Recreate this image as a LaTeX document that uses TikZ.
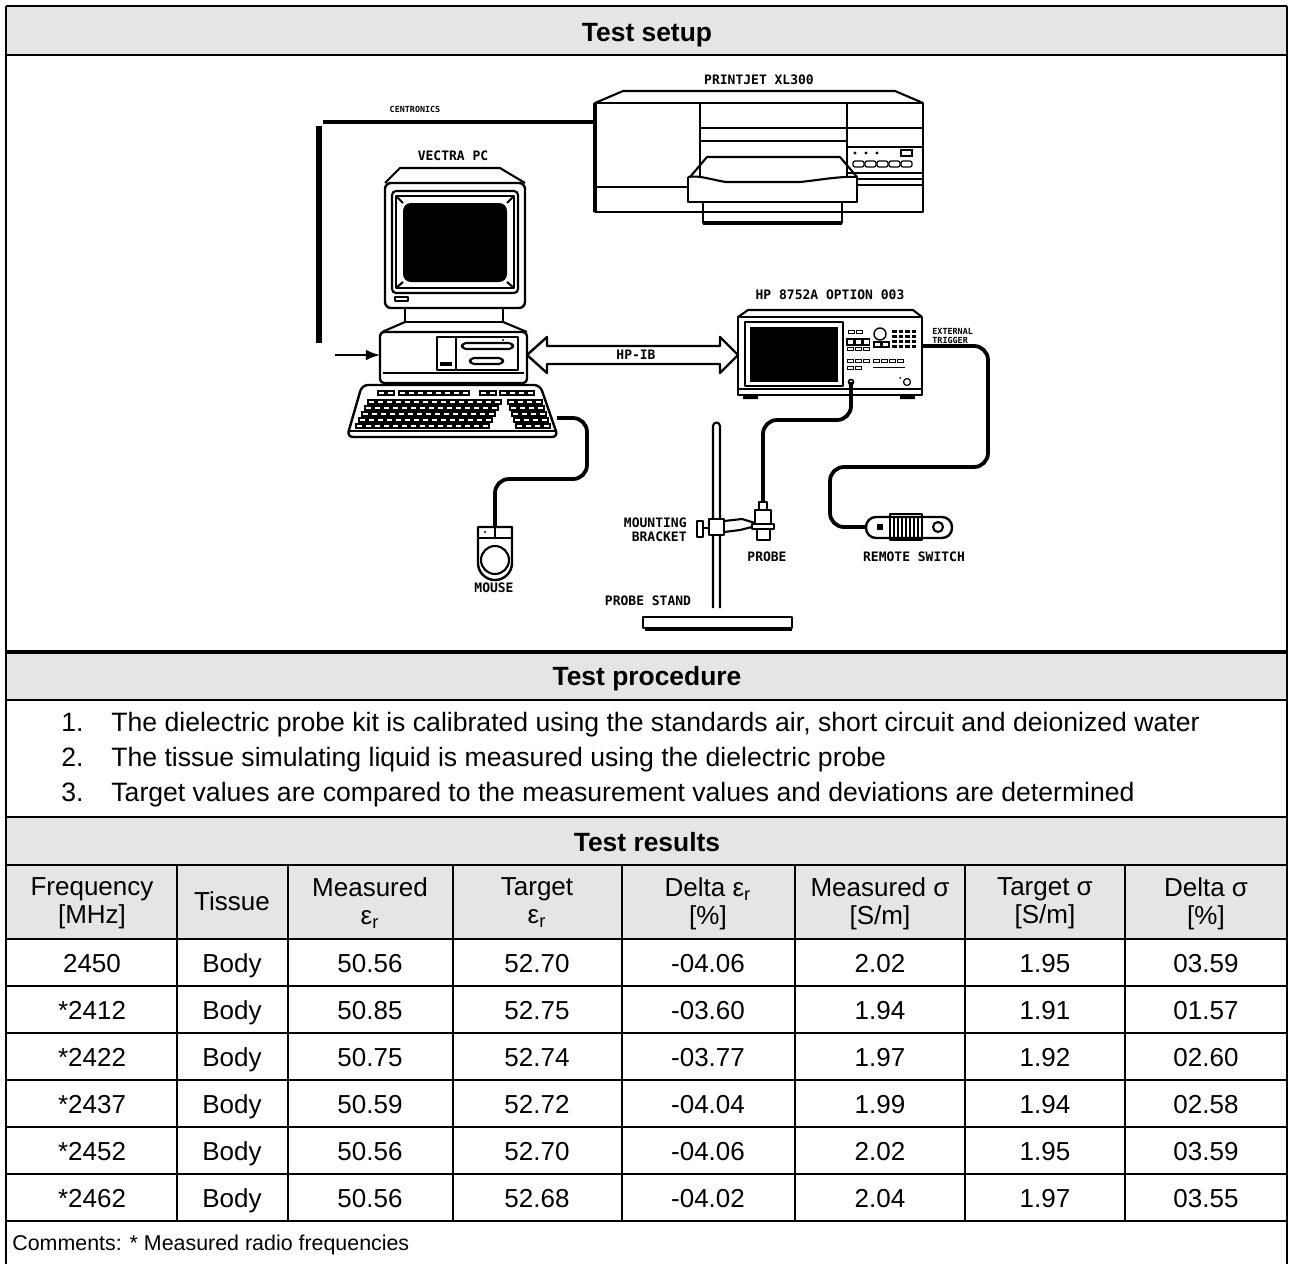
\documentclass[tikz,border=0pt]{standalone}
\usepackage{fontspec}
\setmainfont{Liberation Sans}
\newfontfamily\stencil{DejaVu Sans Mono}
\usetikzlibrary{positioning, arrows.meta}
\definecolor{bandgray}{RGB}{229,229,229}
\tikzset{
    x=0.5pt, y=-0.5pt, % one unit is one pixel of the sheet, counted downwards
    rule/.style={line width=1.1pt}, % lines of the table
    band/.style={fill=bandgray}, % grey title rows
    title/.style={font=\fontsize{13.2}{15}\selectfont\bfseries, anchor=base, inner sep=0pt}, % row titles
    cell/.style={font=\fontsize{13}{14}\selectfont, align=center, inner sep=0pt, text depth=0pt}, % table text
    line/.style={font=\fontsize{13.3}{14}\selectfont, anchor=base west, inner sep=0pt}, % procedure text
    tag/.style={font=\stencil\bfseries\fontsize{6.5}{7}\selectfont, inner sep=0pt, align=center}, % labels in the sketch
    tinytag/.style={tag, font=\stencil\bfseries\fontsize{4.2}{4.6}\selectfont}, % very small labels
    kit/.style={line width=1.05pt, line join=round}, % outlines of the equipment
    cable/.style={line width=1.9pt, rounded corners=7pt}, % wires
    >=Latex,
}

\begin{document}
\begin{tikzpicture}
\useasboundingbox (0,0) rectangle (1290,1264);

% grey bands
\fill[band] (6,6) rectangle (1287,55);
\fill[band] (6,652) rectangle (1287,700);
\fill[band] (6,817) rectangle (1287,939);

% table frame
\draw[rule] (6,6) -- (1287,6);
\draw[rule] (6,6) -- (6,1264);
\draw[rule] (1287,6) -- (1287,1264);
\draw[line width=1.6pt] (6,652) -- (1287,652);
\foreach \y in {55,700,817,865,939,986,1033,1080,1127,1174,1221}
    \draw[rule] (6,\y) -- (1287,\y);
\foreach \x in {177,288,453,622,795,965,1125}
    \draw[rule] (\x,865) -- (\x,1221);

\node[title] (setup) at (647,41) {Test setup};
\node[title] (proc) at (647,685) {Test procedure};
\node[title] (res) at (647,851) {Test results};

% procedure
\node[line] (n1) at (61,731) {1.};
\node[line] (p1) at (111,731) {The dielectric probe kit is calibrated using the standards air, short circuit and deionized water};
\node[line] (n2) at (61,766) {2.};
\node[line] (p2) at (111,766) {The tissue simulating liquid is measured using the dielectric probe};
\node[line] (n3) at (61,801) {3.};
\node[line] (p3) at (111,801) {Target values are compared to the measurement values and deviations are determined};

% results
\node[cell] (h1) at (92,901) {Frequency\\{[MHz]}};
\node[cell] (h2) at (232,901) {Tissue};
\node[cell] (h3) at (370,901) {Measured\\ε\textsubscript{r}};
\node[cell] (h4) at (537,901) {Target\\ε\textsubscript{r}};
\node[cell] (h5) at (708,901) {Delta ε\textsubscript{r}\\{[\%]}};
\node[cell] (h6) at (880,901) {Measured σ\\{[S/m]}};
\node[cell] (h7) at (1045,901) {Target σ\\{[S/m]}};
\node[cell] (h8) at (1206,901) {Delta σ\\{[\%]}};

\foreach \fq/\tis/\mer/\ter/\der/\mes/\tes/\des [count=\i] in {
    2450/Body/50.56/52.70/-04.06/2.02/1.95/03.59,
    *2412/Body/50.85/52.75/-03.60/1.94/1.91/01.57,
    *2422/Body/50.75/52.74/-03.77/1.97/1.92/02.60,
    *2437/Body/50.59/52.72/-04.04/1.99/1.94/02.58,
    *2452/Body/50.56/52.70/-04.06/2.02/1.95/03.59,
    *2462/Body/50.56/52.68/-04.02/2.04/1.97/03.55}
{
    \node[cell] (fq\i) at (92,{916+47*\i}) {\fq};
    \node[cell] (ts\i) at (232,{916+47*\i}) {\tis};
    \node[cell] (me\i) at (370,{916+47*\i}) {\mer};
    \node[cell] (te\i) at (537,{916+47*\i}) {\ter};
    \node[cell] (de\i) at (708,{916+47*\i}) {\der};
    \node[cell] (ms\i) at (880,{916+47*\i}) {\mes};
    \node[cell] (tg\i) at (1045,{916+47*\i}) {\tes};
    \node[cell] (ds\i) at (1206,{916+47*\i}) {\des};
}
\node[line, font=\fontsize{10.7}{12}\selectfont] (note) at (12,1250) {Comments: * Measured radio frequencies};

% ---- sketch of the set-up ----
% printer
\node[tag] (pjlab) at (759,80) {PRINTJET XL300};
\draw[kit] (595,103) -- (623,91) -- (895,91) -- (923,103);
\draw[kit] (595,103) rectangle (923,212);
\draw[line width=1.8pt] (595,103) -- (595,212);
\draw[kit] (700,103) -- (700,177) (847,103) -- (847,177);
\draw[kit] (595,187) -- (688,187);
\draw[kit] (700,128) -- (847,128) (700,141) -- (847,141);
\draw[kit] (847,128) -- (923,128) (847,147) -- (923,147) (847,173) -- (923,173)
    (857,179) -- (923,179) (857,185) -- (923,185);
\foreach \x in {855,866,877}
    \fill (\x,153) circle (1.6);
\draw[line width=0.6pt] (901,150) rectangle (912,156);
\foreach \x in {853,865,877,889,901}
    \draw[line width=0.6pt, rounded corners=1pt] (\x,161) rectangle ++(11,6);
\draw[kit] (690,177) -- (707,157) -- (840,157) -- (857,177);
\draw[kit] (688,177) .. controls (700,175) and (712,180) .. (726,182) -- (800,182)
    .. controls (820,180) and (840,176) .. (857,177);
\draw[kit] (688,177) -- (688,202) -- (857,202) -- (857,177);
\draw[kit] (703,202) rectangle (842,223);
\draw[line width=1.6pt] (703,223) -- (842,223);

% centronics cable
\coordinate (prn) at (594,122);
\coordinate (cen) at (323,122);
\draw[line width=2.2pt] (prn) -- (cen);
\draw[line width=3pt] (319,126) -- (319,343);
\draw[->, line width=0.9pt] (335,355) -- (380,355);
\node[tinytag] (cenlab) at (415,109) {CENTRONICS};

% monitor
\node[tag] (pclab) at (453,156) {VECTRA PC};
\draw[kit] (385,183) -- (400,168) -- (500,168) -- (525,183);
\draw[kit, line width=1.2pt, rounded corners=3pt] (385,183) rectangle (525,308);
\draw[kit, rounded corners=2pt] (392,191) rectangle (518,293);
\draw[kit] (396,196) rectangle (514,288);
\fill[rounded corners=4pt] (403,203) rectangle (507,282);
\draw[kit] (396,196) -- (403,203) (514,196) -- (507,203) (396,288) -- (403,282) (514,288) -- (507,282);
\draw[kit] (395,297) rectangle (408,301);
\draw[kit] (405,308) rectangle (503,322);
\draw[kit] (405,322) -- (382,332) (503,322) -- (527,332);

% computer case
\draw[kit, line width=1.2pt, rounded corners=2pt] (380,332) rectangle (527,383);
\draw[kit] (383,373) -- (524,373);
\draw[kit] (437,337) rectangle (518,370);
\draw[kit] (456,337) -- (456,370);
\draw[kit, rounded corners=2pt] (462,343) rectangle (513,349);
\draw[kit, rounded corners=2pt] (470,358) rectangle (503,364);
\fill (440,362) rectangle (452,366);
\fill (503,340) circle (1.2);

% keyboard
\draw[kit, line width=1.2pt, rounded corners=3pt] (362,385) -- (540,385) -- (558,437) -- (347,437) -- cycle;
\draw[kit] (349,431) -- (556,431);
\foreach \x in {378,387,399,408,417,426,435,444,453,462,480,489,500,509,518,527}
    \draw[line width=0.6pt] (\x,391) rectangle ++(7,4);
\foreach \r in {0,...,4} {
    \foreach \k in {0,...,14}
        \draw[line width=0.6pt] ({368-3*\r+9*\k},{400+6*\r}) rectangle ++(7,4);
    \foreach \k in {0,...,3}
        \draw[line width=0.6pt] ({508+2*\r+9*\k},{400+6*\r}) rectangle ++(7,4);
}

% mouse
\coordinate (kbd) at (557,418);
\coordinate (mouse) at (495,527);
\draw[cable] (kbd) -- (587,418) -- (587,479) -- (495,479) -- (mouse);
\draw[kit, line width=1.2pt] (478,527) -- (478,563) arc[start angle=180, end angle=0, radius=17] -- (512,527) -- cycle;
\draw[kit] (478,538) -- (512,538) (495,527) -- (495,538);
\fill (485,532) circle (1.2);
\draw[kit] (495,560) circle (14);
\node[tag] (mslab) at (494,588) {MOUSE};

% HP-IB bus
\draw[kit, line width=1.2pt] (527,355) -- (547,337) -- (547,346) -- (720,346) -- (720,337) -- (738,355)
    -- (720,373) -- (720,364) -- (547,364) -- (547,373) -- cycle;
\node[tag] (hpib) at (636,355) {HP-IB};

% network analyser
\node[tag] (nalab) at (830,295) {HP 8752A OPTION 003};
\draw[kit] (738,317) -- (748,310) -- (913,310) -- (922,317);
\draw[kit, line width=1.3pt] (738,317) rectangle (922,395);
\draw[kit] (738,389) -- (922,389);
\fill (743,395) rectangle (758,399) (900,395) rectangle (915,399);
\draw[kit] (745,322) rectangle (843,386);
\fill (750,327) rectangle (838,382);
\foreach \x in {848,856}
    \draw[line width=0.5pt] (\x,330) rectangle ++(6,3);
\draw[line width=0.7pt] (880,334) circle (6);
\foreach \i in {0,...,3}
    \foreach \j in {0,...,3}
        \fill ({892+6.5*\i},{330+5*\j}) rectangle ++(4.5,2.5);
\foreach \x in {847,855,863} {
    \draw[line width=0.6pt] (\x,339) rectangle ++(6.5,6);
    \draw[line width=0.5pt] (\x,347) rectangle ++(6.5,3);
}
\draw[line width=0.6pt] (874,342) rectangle ++(7,5) (882,342) rectangle ++(7,5);
\foreach \x in {847,855,863,873,881,889,897}
    \draw[line width=0.5pt] (\x,359) rectangle ++(6,3);
\foreach \x in {847,855}
    \draw[line width=0.5pt] (\x,366) rectangle ++(6,3);
\draw[line width=0.5pt] (873,367) -- (905,367);
\draw[line width=0.6pt] (907,382) circle (3.5);
\fill (900,378) circle (1);
\coordinate (port) at (851,382);
\draw[line width=0.8pt] (port) circle (2.5);
\node[tinytag, align=left, anchor=west] (extlab) at (932,336) {EXTERNAL\\TRIGGER};

% remote switch
\coordinate (trig) at (922,346);
\coordinate (sw) at (867,527);
\draw[cable] (trig) -- (988,346) -- (988,467) -- (830,467) -- (830,527) -- (sw);
\draw[kit, line width=1.2pt, rounded corners=5pt] (866,517) rectangle (952,538);
\fill (877,524) rectangle (883,530);
\draw[kit] (890,514) rectangle (922,540);
\foreach \x in {894,898,...,918}
    \draw[line width=1.2pt] (\x,516) -- (\x,538);
\draw[kit] (938,527) circle (5);
\node[tag] (rslab) at (914,557) {REMOTE SWITCH};

% probe
\coordinate (tip) at (763,503);
\draw[cable] (port) -- (851,420) -- (763,420) -- (tip);
\draw[kit, fill=white] (759,502) rectangle (767,510);
\draw[kit, fill=white] (755,510) rectangle (771,524);
\draw[kit, fill=white] (752,524) rectangle (774,529);
\draw[kit, fill=white] (757,529) rectangle (770,540);
\node[tag] (prlab) at (767,557) {PROBE};

% stand and bracket
\draw[kit] (713,608) -- (713,426) arc[start angle=180, end angle=360, radius=3.5] -- (720,608);
\draw[kit, line width=1pt] (643,617) rectangle (792,628);
\draw[line width=1.8pt] (645,629) -- (792,629);
\node[tag] (pslab) at (648,601) {PROBE STAND};
\draw[kit, fill=white] (709,519) rectangle (724,535);
\draw[kit] (697,521) rectangle (703,537) (703,528) -- (709,528);
\draw[kit] (724,521) -- (742,519) -- (755,523) (724,532) -- (740,530) -- (752,527);
\node[tag, align=right, anchor=east] (mblab) at (687,530) {MOUNTING\\BRACKET};

\end{tikzpicture}
\end{document}
